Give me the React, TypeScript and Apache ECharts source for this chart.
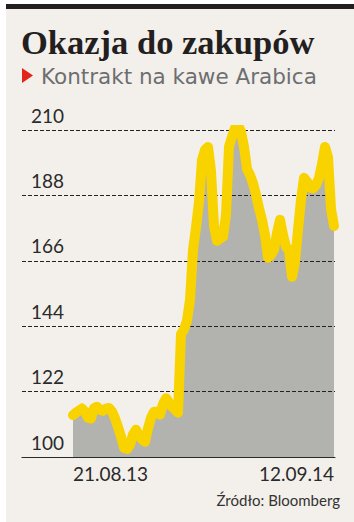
import React, { useEffect, useRef } from "react";
import * as echarts from "echarts";

// ---- data ----
const title = "Okazja do zakupów";
const subtitle = "Kontrakt na kawe Arabica";
const source = "Źródło: Bloomberg";
const xTickLabels = ["21.08.13", "12.09.14"];
const yTicks = [100, 122, 144, 166, 188, 210];

// Arabica futures price, roughly equally spaced sessions from 21.08.13 to 12.09.14
const prices = [
  114.1, 114.9, 115.6, 116.3, 115.2, 113.2, 113.0, 116.4, 116.9, 115.9,
  115.5, 116.3, 116.5, 115.3, 113.0, 110.1, 106.9, 103.1, 102.7, 104.1,
  107.6, 109.2, 107.2, 105.9, 105.1, 109.6, 113.2, 115.2, 115.2, 114.2,
  117.8, 119.8, 118.3, 116.9, 115.9, 114.9, 141.4, 142.9, 145.9, 152.9,
  169.7, 177.2, 185.8, 199.9, 203.3, 204.3, 196.2, 177.6, 172.7, 173.5,
  174.1, 181.4, 204.4, 207.7, 210.7, 211.6, 209.5, 204.3, 196.9, 194.9,
  192.1, 188.2, 183.7, 179.8, 174.7, 167.0, 168.0, 169.7, 175.4, 179.8,
  174.7, 170.7, 169.7, 160.6, 165.6, 176.4, 186.5, 193.9, 192.7, 190.6,
  190.3, 191.5, 193.9, 198.5, 204.3, 200.9, 183.6, 177.7,
];
const categories = prices.map((_, i) => String(i));

const yBase = yTicks[0];
const yStep = yTicks[1] - yTicks[0];
const yTop = yTicks[yTicks.length - 1];

const BG = "#f3f0eb";
const YELLOW = "#f9d300";
const GRAY = "#b2b2af";
const INK = "#2a2a2a";
const LABEL_FONT = "Lato, 'Open Sans', sans-serif";

export default function App() {
  const ref = useRef<HTMLDivElement>(null);

  useEffect(() => {
    if (!ref.current) return;
    const chart = echarts.init(ref.current, undefined, { renderer: "svg" });
    const shifted = prices.map((v) => +(v - yBase).toFixed(2));
    const last = prices.length - 1;

    chart.setOption({
      animation: false,
      backgroundColor: "#ffffff",
      graphic: [
        { type: "rect", z: -10, shape: { x: 6, y: 9, width: 348, height: 513 }, style: { fill: BG } },
        { type: "rect", z: -10, shape: { x: 6, y: 4, width: 348, height: 5 }, style: { fill: "#231f20" } },
        {
          type: "text",
          x: 21,
          y: 42,
          style: {
            text: title,
            fill: "#231f20",
            font: "bold 34.5px 'Liberation Serif', 'DejaVu Serif', serif",
            verticalAlign: "middle",
            align: "left",
          },
        },
        {
          type: "polygon",
          shape: { points: [[22, 68], [33, 75.5], [22, 83]] },
          style: { fill: "#e3241b" },
        },
        {
          type: "text",
          x: 41,
          y: 76,
          style: {
            text: subtitle,
            fill: "#6d6e70",
            font: "21.5px 'DejaVu Sans', sans-serif",
            verticalAlign: "middle",
            align: "left",
          },
        },
        {
          type: "text",
          x: 340,
          y: 500,
          style: {
            text: source,
            fill: "#333333",
            font: "15px " + LABEL_FONT,
            verticalAlign: "middle",
            align: "right",
          },
        },
      ],
      grid: [
        { left: 22, right: 19, top: 130, bottom: 65 },
        { left: 73, right: 20, top: 130, bottom: 65 },
      ],
      xAxis: [
        {
          gridIndex: 0,
          type: "value",
          min: 0,
          max: 1,
          z: 4,
          axisLine: { show: true, lineStyle: { color: INK, width: 1.2 } },
          axisTick: { show: false },
          axisLabel: { show: false },
          splitLine: { show: false },
        },
        {
          gridIndex: 1,
          type: "category",
          data: categories,
          boundaryGap: false,
          axisLine: { show: false },
          axisTick: { show: false },
          splitLine: { show: false },
          axisLabel: {
            interval: (i: number) => i === 0 || i === last,
            formatter: (_v: string, i: number) => (i === 0 ? xTickLabels[0] : xTickLabels[1]),
            alignMinLabel: "left",
            alignMaxLabel: "right",
            color: INK,
            fontFamily: LABEL_FONT,
            fontSize: 19,
            margin: 7,
          },
        },
      ],
      yAxis: [
        {
          gridIndex: 0,
          type: "value",
          min: 0,
          max: yTop - yBase,
          interval: yStep,
          z: 2,
          axisLine: { show: false },
          axisTick: { show: false },
          splitLine: {
            show: true,
            lineStyle: { color: "#222222", width: 1, type: [4, 2] },
          },
          axisLabel: {
            inside: true,
            margin: 9,
            align: "left",
            verticalAlign: "bottom",
            lineHeight: 30,
            color: INK,
            fontFamily: LABEL_FONT,
            fontSize: 19,
            formatter: (v: number) => String(v + yBase),
          },
        },
        {
          gridIndex: 1,
          type: "value",
          min: 0,
          max: yTop - yBase,
          interval: yStep,
          show: false,
        },
      ],
      series: [
        {
          type: "line",
          xAxisIndex: 1,
          yAxisIndex: 1,
          data: shifted,
          symbol: "none",
          z: 1,
          lineStyle: { width: 0 },
          areaStyle: { color: GRAY, opacity: 1 },
          silent: true,
        },
        {
          type: "line",
          xAxisIndex: 1,
          yAxisIndex: 1,
          data: shifted,
          symbol: "none",
          z: 3,
          lineStyle: { width: 10, color: YELLOW, cap: "round", join: "round" },
          silent: true,
        },
      ],
    });

    return () => chart.dispose();
  }, []);

  return (
    <div
      ref={ref}
      style={{ position: "absolute", left: 0, top: 0, width: 354, height: 522 }}
    />
  );
}
